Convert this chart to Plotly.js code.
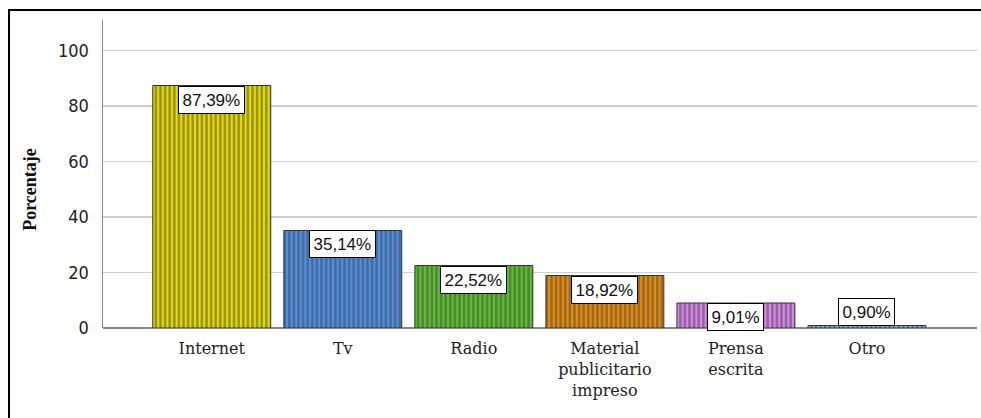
<!DOCTYPE html>
<html>
<head>
<meta charset="utf-8">
<script src="https://cdn.plot.ly/plotly-3.0.1.min.js"></script>
<style>
  html, body { margin: 0; padding: 0; background: #fff; overflow: hidden; }
  #frame { position: absolute; left: 8px; top: 9px; width: 1000px; height: 500px; border-left: 2px solid #000; border-top: 2px solid #000; }
  #chart { position: absolute; left: 0; top: 0; width: 981px; height: 418px; }
</style>
</head>
<body>
<div id="frame"></div>
<div id="chart"></div>
<script>
const categories = ["Internet", "Tv", "Radio", "Material<br>publicitario<br>impreso", "Prensa<br>escrita", "Otro"];
const values = [87.39, 35.14, 22.52, 18.92, 9.01, 0.90];
const valueLabels = ["87,39%", "35,14%", "22,52%", "18,92%", "9,01%", "0,90%"];
const yTicks = [0, 20, 40, 60, 80, 100];
const yTitle = "Porcentaje";

const fillColors = ["#e8de00", "#4d90e6", "#5cc22c", "#ea8c0c", "#dc86ec", "#3d6fb0"];
const stripeColors = ["#6b6600", "#2a4e80", "#2e6416", "#744608", "#7a4688", "#1e3a66"];

const trace = {
  type: "bar",
  x: categories,
  y: values,
  marker: {
    color: fillColors,
    line: { color: "#333333", width: 1 },
    pattern: { shape: "|", fgcolor: stripeColors, fillmode: "overlay", size: 4.6, solidity: 0.55 }
  },
  hoverinfo: "none",
  width: 0.9
};

const annotations = categories.map((c, i) => ({
  x: c, y: values[i], xref: "x", yref: "y",
  text: valueLabels[i],
  showarrow: false,
  yanchor: values[i] < 5 ? "bottom" : "top",
  font: { family: "Liberation Sans, Arial, sans-serif", size: 17, color: "#111" },
  bgcolor: "#ffffff", bordercolor: "#000000", borderwidth: 1, borderpad: 3.5
}));

annotations.push({
  xref: "paper", yref: "paper", x: -0.083, y: 0.45,
  xanchor: "center", yanchor: "middle",
  text: "<b>" + yTitle + "</b>", textangle: -90, showarrow: false,
  font: { family: "Liberation Serif, Times New Roman, serif", size: 18, color: "#111" }
});

const layout = {
  width: 981, height: 418,
  margin: { l: 103, r: 4, t: 20, b: 90 },
  paper_bgcolor: "rgba(0,0,0,0)",
  plot_bgcolor: "rgba(0,0,0,0)",
  showlegend: false,
  bargap: 0.1,
  xaxis: {
    type: "category",
    range: [-0.83, 5.84],
    showgrid: false, zeroline: false,
    showline: false,
    ticks: "", ticklabelstandoff: 9,
    tickfont: { family: "DejaVu Serif, Liberation Serif, serif", size: 16, color: "#222" },
    tickangle: 0
  },
  yaxis: {
    range: [0, 111],
    tickvals: yTicks,
    ticktext: yTicks.map(String),
    showgrid: true, gridcolor: "#cfcfcf", gridwidth: 1.5,
    zeroline: true, zerolinecolor: "#888888", zerolinewidth: 1.5,
    showline: true, linecolor: "#888888", linewidth: 1.5,
    ticks: "", ticklabelstandoff: 9,
    tickfont: { family: "Liberation Sans Narrow, DejaVu Sans Condensed, Arial Narrow, sans-serif", size: 18, color: "#222" }
  },
  annotations: annotations
};

Plotly.newPlot("chart", [trace], layout, { staticPlot: true, displayModeBar: false });
</script>
</body>
</html>
